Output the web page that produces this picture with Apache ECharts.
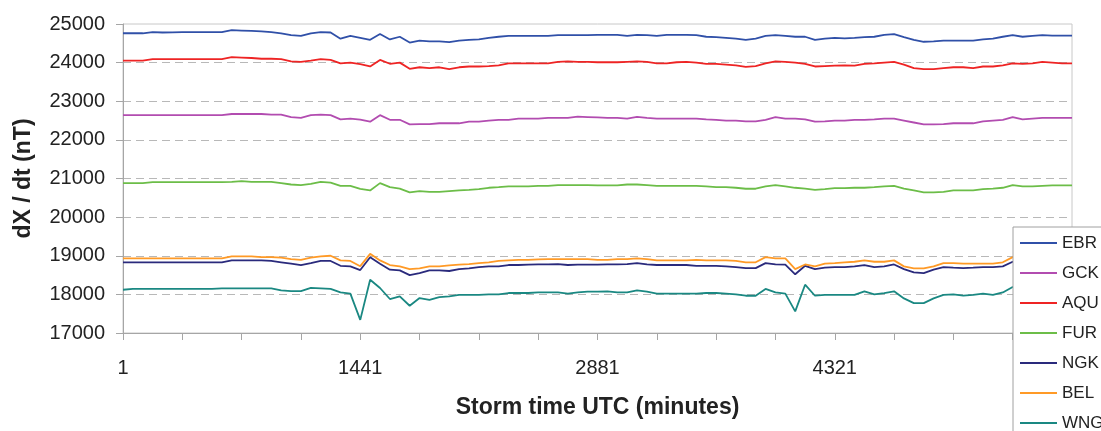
<!DOCTYPE html>
<html>
<head>
<meta charset="utf-8">
<title>dX / dt</title>
<script src="https://cdn.jsdelivr.net/npm/echarts@6/dist/echarts.min.js"></script>
<style>
  html, body { margin: 0; padding: 0; background: #fff; }
  #chart { width: 1101px; height: 431px; }
</style>
</head>
<body>
<div id="chart"></div>
<script>
// storm time in minutes, one sample per hour
const minutes = [
  1, 61, 121, 181, 241, 301, 361, 421, 481, 541, 601, 661,
  721, 781, 841, 901, 961, 1021, 1081, 1141, 1201, 1261, 1321, 1381,
  1441, 1501, 1561, 1621, 1681, 1741, 1801, 1861, 1921, 1981, 2041, 2101,
  2161, 2221, 2281, 2341, 2401, 2461, 2521, 2581, 2641, 2701, 2761, 2821,
  2881, 2941, 3001, 3061, 3121, 3181, 3241, 3301, 3361, 3421, 3481, 3541,
  3601, 3661, 3721, 3781, 3841, 3901, 3961, 4021, 4081, 4141, 4201, 4261,
  4321, 4381, 4441, 4501, 4561, 4621, 4681, 4741, 4801, 4861, 4921, 4981,
  5041, 5101, 5161, 5221, 5281, 5341, 5401, 5461, 5521, 5581, 5641, 5701,
  5761
]

const ebr = [
  24760, 24760, 24760, 24790, 24780, 24785, 24790, 24790, 24790, 24790, 24790, 24840,
  24830, 24820, 24810, 24790, 24760, 24710, 24690, 24760, 24790, 24780, 24620, 24690,
  24640, 24590, 24740, 24600, 24670, 24520, 24570, 24550, 24550, 24530, 24570, 24590,
  24600, 24640, 24670, 24690, 24690, 24690, 24690, 24690, 24710, 24710, 24710, 24710,
  24720, 24720, 24720, 24690, 24720, 24710, 24690, 24720, 24720, 24720, 24710, 24670,
  24660, 24640, 24620, 24590, 24620, 24690, 24710, 24690, 24670, 24670, 24590, 24620,
  24640, 24630, 24640, 24660, 24670, 24720, 24740, 24660, 24590, 24540, 24550, 24570,
  24570, 24570, 24570, 24600, 24620, 24670, 24710, 24670, 24690, 24710, 24700, 24700,
  24700
]

const gck = [
  22640, 22640, 22640, 22640, 22640, 22640, 22640, 22640, 22640, 22640, 22640, 22670,
  22670, 22670, 22670, 22655, 22655, 22590, 22570, 22640, 22655, 22640, 22530, 22550,
  22525, 22470, 22640, 22520, 22520, 22400, 22410, 22410, 22430, 22430, 22430, 22470,
  22470, 22500, 22520, 22520, 22550, 22550, 22550, 22570, 22570, 22570, 22600, 22590,
  22580, 22570, 22570, 22550, 22595, 22570, 22550, 22550, 22550, 22550, 22550, 22530,
  22520, 22500, 22500, 22480, 22480, 22520, 22590, 22550, 22550, 22530, 22470, 22480,
  22500, 22500, 22520, 22520, 22530, 22550, 22550, 22500, 22450, 22400, 22400, 22410,
  22430, 22430, 22430, 22480, 22500, 22520, 22590, 22530, 22550, 22570, 22570, 22570,
  22570
]

const aqu = [
  24050, 24050, 24050, 24090, 24090, 24090, 24090, 24090, 24090, 24090, 24090, 24140,
  24130, 24120, 24100, 24100, 24090, 24030, 24020, 24050, 24090, 24070, 23980, 24000,
  23960, 23900, 24070, 23970, 24000, 23840, 23880, 23860, 23880, 23830, 23880, 23900,
  23900, 23910, 23930, 23980, 23980, 23980, 23980, 23980, 24020, 24030, 24020, 24020,
  24010, 24010, 24010, 24020, 24030, 24020, 23980, 23980, 24010, 24020, 24000, 23970,
  23970, 23950, 23930, 23890, 23910, 23980, 24030, 24020, 24000, 23970, 23900, 23910,
  23920, 23930, 23920, 23970, 23980, 24000, 24020, 23950, 23860, 23830, 23830, 23860,
  23880, 23880, 23860, 23900, 23900, 23930, 23980, 23970, 23980, 24020, 24000, 23980,
  23980
]

const fur = [
  20880, 20880, 20880, 20905, 20905, 20905, 20905, 20905, 20905, 20905, 20905, 20915,
  20930, 20915, 20915, 20915, 20880, 20845, 20830, 20860, 20915, 20895, 20810, 20810,
  20730, 20690, 20880, 20775, 20740, 20640, 20675, 20655, 20655, 20675, 20690, 20705,
  20725, 20760, 20775, 20795, 20795, 20795, 20810, 20810, 20830, 20830, 20830, 20830,
  20820, 20820, 20820, 20845, 20845, 20830, 20810, 20810, 20810, 20810, 20810, 20795,
  20775, 20775, 20760, 20735, 20735, 20795, 20830, 20795, 20760, 20740, 20705, 20725,
  20750, 20750, 20760, 20760, 20775, 20795, 20810, 20740, 20690, 20640, 20640, 20655,
  20690, 20690, 20690, 20725, 20740, 20760, 20830, 20795, 20795, 20810, 20820, 20820,
  20820
]

const ngk = [
  18830, 18830, 18830, 18830, 18830, 18830, 18830, 18830, 18830, 18830, 18830, 18880,
  18880, 18880, 18880, 18865, 18830, 18795, 18760, 18810, 18865, 18865, 18740, 18725,
  18630, 18960, 18795, 18640, 18620, 18500, 18550, 18620, 18620, 18605, 18655, 18675,
  18705, 18725, 18725, 18760, 18760, 18770, 18775, 18775, 18785, 18760, 18770, 18770,
  18770, 18775, 18775, 18785, 18810, 18775, 18760, 18760, 18760, 18760, 18740, 18740,
  18740, 18725, 18705, 18680, 18680, 18810, 18775, 18770, 18520, 18740, 18655, 18690,
  18705, 18705, 18725, 18760, 18705, 18725, 18775, 18655, 18570, 18550, 18640, 18705,
  18690, 18680, 18690, 18705, 18705, 18725, 18845, 18760, 18760, 18760, 18760, 18760,
  18760
]

const bel = [
  18930, 18930, 18930, 18930, 18930, 18930, 18930, 18930, 18930, 18930, 18930, 18985,
  18985, 18985, 18965, 18965, 18950, 18915, 18895, 18950, 18985, 19000, 18880, 18865,
  18730, 19050, 18880, 18760, 18725, 18655, 18675, 18725, 18725, 18750, 18770, 18785,
  18810, 18830, 18865, 18880, 18895, 18895, 18905, 18915, 18915, 18915, 18915, 18915,
  18895, 18895, 18915, 18915, 18930, 18915, 18880, 18880, 18880, 18880, 18895, 18880,
  18880, 18880, 18865, 18830, 18830, 18965, 18930, 18930, 18655, 18775, 18725, 18795,
  18810, 18830, 18845, 18880, 18845, 18845, 18880, 18725, 18675, 18675, 18725, 18810,
  18810, 18795, 18795, 18795, 18795, 18830, 18965, 18860, 18860, 18860, 18860, 18860,
  18860
]

const wng = [
  18120, 18140, 18140, 18140, 18140, 18140, 18140, 18140, 18140, 18140, 18155, 18155,
  18155, 18155, 18155, 18155, 18105, 18085, 18085, 18170, 18155, 18140, 18050, 18020,
  17340, 18380, 18165, 17880, 17950, 17705, 17905, 17860, 17930, 17950, 17985, 17985,
  17985, 18000, 18000, 18035, 18035, 18035, 18050, 18050, 18050, 18020, 18050, 18070,
  18070, 18080, 18050, 18050, 18105, 18070, 18020, 18020, 18020, 18020, 18020, 18035,
  18035, 18020, 18000, 17965, 17965, 18140, 18050, 18020, 17560, 18250, 17965, 17985,
  17985, 17985, 17985, 18080, 18000, 18035, 18080, 17895, 17775, 17775, 17895, 17985,
  18000, 17965, 17985, 18020, 17985, 18050, 18190, 18060, 18060, 18060, 18060, 18060,
  18060
]

const stations = ['EBR', 'GCK', 'AQU', 'FUR', 'NGK', 'BEL', 'WNG']
const stationValues = [ebr, gck, aqu, fur, ngk, bel, wng]
const stationColors = ['#3050a8', '#b24cb0', '#ee2424', '#6cbd48', '#2a2a7c', '#ff9a26', '#1a8882']

const xTickValues = [1, 361, 721, 1081, 1441, 1801, 2161, 2521, 2881, 3241, 3601, 3961, 4321, 4681, 5041, 5401, 5761]
const xLabelValues = [1, 1441, 2881, 4321]

const font = '"Liberation Sans", Arial, sans-serif'

const chart = echarts.init(document.getElementById('chart'), null, { renderer: 'canvas' })

const series = stations.map((name, i) => ({
  name,
  type: 'line',
  symbol: 'none',
  animation: false,
  lineStyle: { width: 1.8, color: stationColors[i] },
  itemStyle: { color: stationColors[i] },
  data: minutes.map((t, k) => [t, stationValues[i][k]]),
}))

chart.setOption({
  animation: false,
  textStyle: { fontFamily: font },
  grid: {
    left: 123,
    right: 29,
    top: 24,
    bottom: 98,
    show: true,
    borderColor: '#c8c8c8',
    borderWidth: 1,
    backgroundColor: 'transparent',
  },
  legend: {
    orient: 'vertical',
    left: 1013,
    top: 227,
    height: 300,
    padding: [6, 20, 8, 7],
    itemGap: 10,
    itemWidth: 37,
    itemHeight: 2,
    icon: 'rect',
    backgroundColor: '#fff',
    borderColor: '#a0a0a0',
    borderWidth: 1,
    borderRadius: 0,
    textStyle: { fontFamily: font, fontSize: 17, lineHeight: 20, color: '#222' },
    data: stations,
  },
  xAxis: {
    type: 'value',
    min: 1,
    max: 5761,
    name: 'Storm time UTC (minutes)',
    nameLocation: 'middle',
    nameGap: 63,
    nameTextStyle: { fontFamily: font, fontSize: 23, fontWeight: 'bold', color: '#222' },
    axisLine: { show: true, lineStyle: { color: '#a6a6a6', width: 1 } },
    axisTick: { show: true, length: 7, customValues: xTickValues, lineStyle: { color: '#a6a6a6' } },
    axisLabel: {
      customValues: xLabelValues,
      margin: 25,
      fontSize: 20,
      color: '#222',
      fontFamily: font,
      formatter: (v) => String(v),
    },
    splitLine: { show: false },
  },
  yAxis: {
    type: 'value',
    min: 17000,
    max: 25000,
    interval: 1000,
    name: 'dX / dt (nT)',
    nameLocation: 'middle',
    nameGap: 88,
    nameTextStyle: { fontFamily: font, fontSize: 23, fontWeight: 'bold', color: '#222' },
    axisLine: { show: true, lineStyle: { color: '#a6a6a6', width: 1 } },
    axisTick: { show: true, length: 7, lineStyle: { color: '#a6a6a6' } },
    axisLabel: {
      margin: 18,
      fontSize: 20,
      color: '#222',
      fontFamily: font,
      formatter: (v) => String(v),
    },
    splitLine: {
      show: true,
      showMinLine: false,
      showMaxLine: false,
      lineStyle: { color: '#b8b8b8', type: [8, 5], width: 1 },
    },
  },
  series,
})
</script>
</body>
</html>
